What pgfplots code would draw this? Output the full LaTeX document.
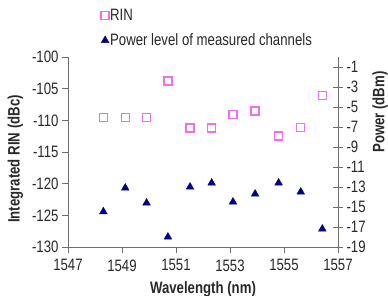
\documentclass[border=0pt]{standalone}
\usepackage{pgfplots}
\pgfplotsset{compat=1.18}
\usepackage{fontspec}
\setmainfont[FakeStretch=0.8]{Liberation Sans}
\definecolor{rinpink}{RGB}{238,110,238}
\definecolor{pownavy}{RGB}{0,0,128}
\definecolor{axgray}{RGB}{110,110,110}
\definecolor{txt}{RGB}{40,40,40}
\begin{document}
\begin{tikzpicture}[font=\fontsize{16.5}{19}\selectfont]
\begin{axis}[
  name=main,
  scale only axis, width=270pt, height=190pt,
  xmin=1547, xmax=1557, ymin=-130, ymax=-100,
  xtick={1547,1549,...,1557}, ytick={-130,-125,...,-100},
  axis x line*=bottom, axis y line*=left,
  axis line style={-, draw=axgray, line width=0.8pt},
  tick style={draw=axgray, line width=0.8pt},
  tick align=outside, major tick length=6pt,
  /pgf/number format/assume math mode=true,
  /pgf/number format/1000 sep={},
  ticklabel style={text=txt},
  xticklabel style={yshift=-3pt},
  xlabel={\bfseries Wavelength (nm)},
  xlabel style={yshift=-3pt},
  ylabel={\bfseries Integrated RIN (dBc)},
  ylabel style={yshift=2pt, xshift=-7pt},
  label style={text=txt},
  legend style={at={(0.122,1.26)}, anchor=north west, draw=none, fill=none,
    row sep=10pt, inner sep=0pt, nodes={inner sep=1pt, text=txt}},
  legend cell align=left,
  legend image code/.code={\draw[#1] plot coordinates {(0.1cm,0cm)};},
]
\addplot[only marks, color=rinpink, mark=square, mark size=4pt, mark options={draw=rinpink, fill=white, line width=1.4pt, line join=miter}] coordinates {
(1548.31,-109.6) (1549.12,-109.6) (1549.91,-109.6) (1550.70,-103.8)
(1551.52,-111.2) (1552.32,-111.2) (1553.11,-109.05) (1553.93,-108.5)
(1554.80,-112.5) (1555.62,-111.1) (1556.42,-106.05)};
\addlegendentry{RIN}
\addlegendimage{only marks, color=pownavy, mark=triangle*, mark size=4.5pt, mark options={draw=pownavy, fill=pownavy}}
\addlegendentry{Power level of measured channels}
\end{axis}
\begin{axis}[
  scale only axis, width=270pt, height=190pt,
  xmin=1547, xmax=1557, ymin=-19, ymax=0,
  axis x line=none, axis y line*=right,
  ytick={-19,-17,...,-1},
  axis line style={-, draw=axgray, line width=0.8pt},
  tick style={draw=axgray, line width=0.8pt},
  tick align=center, major tick length=10pt,
  /pgf/number format/assume math mode=true,
  ticklabel style={text=txt},
  ylabel={\bfseries Power (dBm)},
  ylabel style={at={(rel axis cs:1,0.71)}, anchor=center, yshift=-42pt, text=txt},
]
\addplot[only marks, color=pownavy, mark=triangle*, mark size=4.5pt, mark options={draw=pownavy, fill=pownavy}] coordinates {
(1548.31,-15.47) (1549.12,-13.1) (1549.91,-14.6) (1550.70,-18.0)
(1551.52,-13.0) (1552.32,-12.6) (1553.11,-14.5) (1553.93,-13.7)
(1554.80,-12.6) (1555.62,-13.5) (1556.42,-17.2)};
\end{axis}
\pgfresetboundingbox
\path (main.south west) +(-68pt,-49pt) rectangle +(320pt,247pt);
\end{tikzpicture}
\end{document}
